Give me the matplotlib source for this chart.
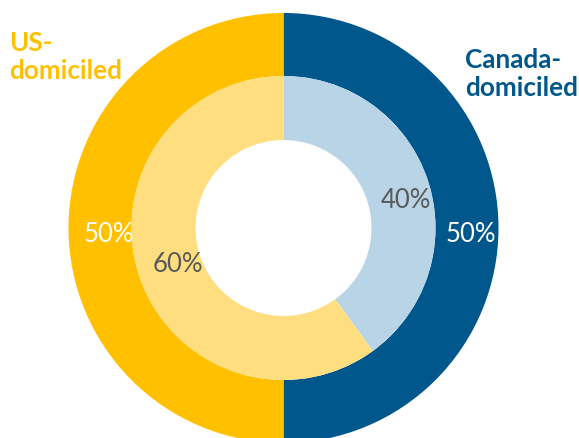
import matplotlib
matplotlib.use("Agg")
import matplotlib.pyplot as plt

# Share of assets by domicile
categories = ["Canada-domiciled", "US-domiciled"]
outer_values = [50, 50]
inner_values = [40, 60]

outer_colors = ["#00578B", "#FFC000"]
inner_colors = ["#B8D4E6", "#FEDE7E"]

W, H = 579, 439
fig = plt.figure(figsize=(W / 100, H / 100), dpi=100)
ax = fig.add_axes([0, 0, 1, 1])
ax.set_xlim(0, W)
ax.set_ylim(0, H)
ax.set_aspect("equal")
ax.axis("off")

cx, cy = 283.5, H - 229
r_outer, r_mid, r_hole = 215, 152, 88

ax.pie(outer_values, colors=outer_colors, radius=r_outer, center=(cx, cy),
       startangle=90, counterclock=False,
       wedgeprops=dict(width=r_outer - r_mid, linewidth=0))
ax.pie(inner_values, colors=inner_colors, radius=r_mid, center=(cx, cy),
       startangle=90, counterclock=False,
       wedgeprops=dict(width=r_mid - r_hole, linewidth=0))
ax.set_xlim(0, W)
ax.set_ylim(0, H)

font = "Lato"
fs = 18.5
ax.text(471, H - 234, f"{outer_values[0]}%", color="white", fontsize=fs,
        family=font, ha="center", va="center")
ax.text(109, H - 234, f"{outer_values[1]}%", color="white", fontsize=fs,
        family=font, ha="center", va="center")
ax.text(406, H - 200, f"{inner_values[0]}%", color="#595959", fontsize=fs,
        family=font, ha="center", va="center")
ax.text(178, H - 264, f"{inner_values[1]}%", color="#595959", fontsize=fs,
        family=font, ha="center", va="center")

ax.text(9, H - 31, "US-\ndomiciled", color=outer_colors[1], fontsize=18.8,
        family=font, fontweight="bold", ha="left", va="top", linespacing=1.2)
ax.text(465, H - 48, "Canada-\ndomiciled", color=outer_colors[0], fontsize=18.8,
        family=font, fontweight="bold", ha="left", va="top", linespacing=1.2)

fig.savefig("out.png", dpi=100)
